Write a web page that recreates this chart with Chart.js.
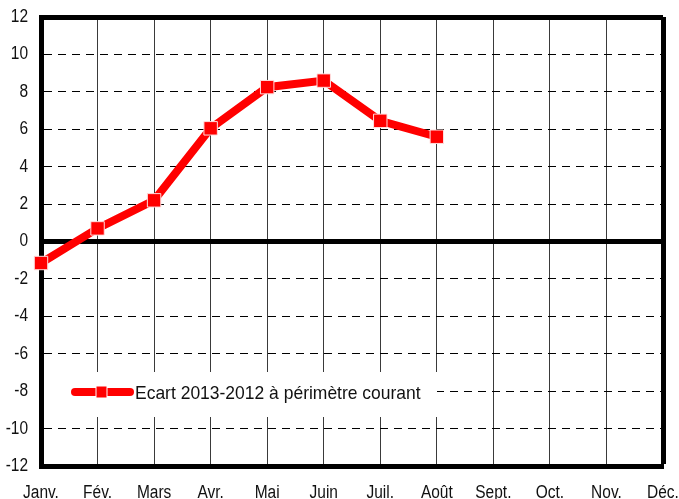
<!DOCTYPE html>
<html>
<head>
<meta charset="utf-8">
<script src="https://cdn.jsdelivr.net/npm/chart.js@4"></script>
<style>
  html, body { margin: 0; padding: 0; background: #fff; }
  #wrap { width: 679px; height: 499px; }
</style>
</head>
<body>
<div id="wrap"><canvas id="ecartChart" width="679" height="499"></canvas></div>
<script>
const months = ['Janv.', 'Fév.', 'Mars', 'Avr.', 'Mai', 'Juin', 'Juil.', 'Août', 'Sept.', 'Oct.', 'Nov.', 'Déc.'];
const ecartValues = [-1.15, 0.7, 2.2, 6.05, 8.25, 8.6, 6.45, 5.6, null, null, null, null];
const seriesLabel = 'Ecart 2013-2012 à périmètre courant';
const yMin = -12;
const yMax = 12;
const yStep = 2;

const FONT = '"Liberation Sans", Arial, sans-serif';
const NARROW = 0.86; // the original uses a condensed face

// squeeze text horizontally around its anchor, to look like a narrow font
const narrowText = {
    id: 'narrowText',
    beforeDraw(chart) {
        const ctx = chart.ctx;
        const orig = ctx.fillText;
        chart._origFillText = orig;
        ctx.fillText = function (text, x, y) {
            this.save();
            this.translate(x, y);
            this.scale(NARROW, 1);
            orig.call(this, text, 0, 0);
            this.restore();
        };
    },
    afterDraw(chart) {
        if (chart._origFillText) {
            chart.ctx.fillText = chart._origFillText;
        }
    }
};

// legend box sitting inside the plot, over the grid
const insideLegend = {
    id: 'insideLegend',
    beforeDatasetsDraw(chart) {
        const ctx = chart.ctx;
        const ds = chart.data.datasets[0];
        ctx.save();
        ctx.fillStyle = '#fff';
        ctx.fillRect(44, 372, 393, 45);
        ctx.strokeStyle = ds.borderColor;
        ctx.lineWidth = 8;
        ctx.lineCap = 'round';
        ctx.beginPath();
        ctx.moveTo(75, 392);
        ctx.lineTo(130, 392);
        ctx.stroke();
        ctx.fillStyle = ds.borderColor;
        ctx.strokeStyle = '#fff';
        ctx.lineWidth = 1;
        ctx.fillRect(96, 386, 11, 12);
        ctx.strokeRect(96, 386, 11, 12);
        ctx.fillStyle = '#111';
        ctx.font = '19px ' + FONT;
        ctx.textBaseline = 'middle';
        ctx.textAlign = 'left';
        ctx.translate(135, 394);
        ctx.scale(0.92, 1);
        (chart._origFillText || ctx.fillText).call(ctx, ds.label, 0, 0);
        ctx.restore();
    }
};

const ctx = document.getElementById('ecartChart').getContext('2d');
new Chart(ctx, {
    type: 'line',
    data: {
        labels: months,
        datasets: [{
            label: seriesLabel,
            data: ecartValues,
            borderColor: '#ff0000',
            backgroundColor: '#ff0000',
            borderWidth: 8,
            tension: 0,
            pointStyle: 'rect',
            pointRadius: 9.5,
            pointHoverRadius: 9.5,
            pointBackgroundColor: '#ff0000',
            pointBorderColor: '#ffdede',
            pointBorderWidth: 1,
            spanGaps: false
        }]
    },
    options: {
        responsive: false,
        animation: false,
        layout: { padding: { top: 17, right: 16, left: 0, bottom: 0 } },
        plugins: {
            legend: { display: false },
            tooltip: { enabled: false }
        },
        scales: {
            x: {
                offset: false,
                afterFit(scale) {
                    scale.height = 33;
                    scale.paddingLeft = 0;
                    scale.paddingRight = 0;
                },
                grid: {
                    drawTicks: false,
                    color: c => c.index === months.length - 1 ? '#000' : '#3a3a3a',
                    lineWidth: c => c.index === months.length - 1 ? 5 : 1
                },
                border: { display: true, color: '#000', width: 5 },
                ticks: {
                    autoSkip: false,
                    maxRotation: 0,
                    padding: 16,
                    color: '#111',
                    font: { family: FONT, size: 18 }
                }
            },
            y: {
                min: yMin,
                max: yMax,
                afterFit(scale) {
                    scale.width = 41;
                    scale.paddingTop = 0;
                    scale.paddingBottom = 0;
                },
                grid: {
                    drawTicks: false,
                    color: '#000',
                    lineWidth: c => (c.tick.value === 0 || c.tick.value === yMax) ? 5 : 1
                },
                border: {
                    display: true,
                    color: '#000',
                    width: 5,
                    dash: c => (c.tick && (c.tick.value === 0 || c.tick.value === yMax || c.tick.value === yMin)) ? [] : [8, 6]
                },
                ticks: {
                    stepSize: yStep,
                    padding: 13,
                    color: '#111',
                    font: { family: FONT, size: 18 }
                }
            }
        }
    },
    plugins: [narrowText, insideLegend]
});
</script>
</body>
</html>
